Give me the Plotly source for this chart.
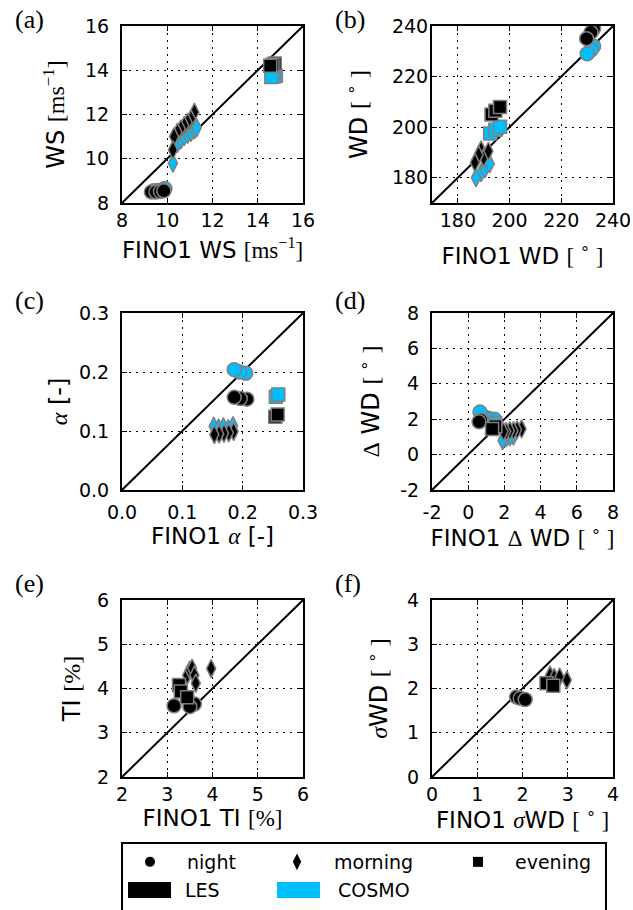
import plotly.graph_objects as go

# ---------------- data ----------------
# (a) wind speed WS [m s-1]: x = FINO1, y = model
A_COS_NIGHT_X = [9.4, 9.6, 9.8, 9.9]
A_COS_NIGHT_Y = [8.55, 8.57, 8.6, 8.65]
A_COS_MORN_X = [10.25, 10.45, 10.6, 10.75, 10.9, 11.05, 11.2, 11.3]
A_COS_MORN_Y = [9.8, 10.7, 10.85, 11.0, 11.1, 11.2, 11.3, 11.4]
A_COS_EVE_X = [14.8, 14.7, 14.6]
A_COS_EVE_Y = [13.75, 13.72, 13.7]
A_LES_NIGHT_X = [9.3, 9.5, 9.7, 9.85]
A_LES_NIGHT_Y = [8.5, 8.5, 8.52, 8.55]
A_LES_MORN_X = [11.2, 11.05, 10.9, 10.75, 10.6, 10.45, 10.3, 10.25]
A_LES_MORN_Y = [12.1, 11.8, 11.65, 11.5, 11.35, 11.2, 11.0, 10.4]
A_LES_EVE_X = [14.75, 14.65, 14.55]
A_LES_EVE_Y = [14.3, 14.25, 14.2]

# (b) wind direction WD [deg]
B_COS_NIGHT_X = [232.5, 231.5, 230.0]
B_COS_NIGHT_Y = [232.0, 230.5, 229.0]
B_COS_MORN_X = [189.0, 190.5, 192.3, 187.0]
B_COS_MORN_Y = [182.0, 183.5, 185.5, 180.0]
B_COS_EVE_X = [192.5, 194.5, 196.3]
B_COS_EVE_Y = [197.5, 199.0, 200.2]
B_LES_NIGHT_X = [232.5, 231.5, 229.8]
B_LES_NIGHT_Y = [239.0, 237.5, 235.0]
B_LES_MORN_X = [189.0, 190.0, 188.0, 191.8, 186.6]
B_LES_MORN_Y = [191.0, 188.0, 189.0, 190.5, 186.0]
B_LES_EVE_X = [193.0, 194.5, 196.3]
B_LES_EVE_Y = [205.0, 206.5, 208.0]

# (c) shear exponent alpha [-]
C_COS_NIGHT_X = [0.205, 0.195, 0.186]
C_COS_NIGHT_Y = [0.198, 0.200, 0.204]
C_COS_MORN_X = [0.152, 0.160, 0.168, 0.176, 0.184]
C_COS_MORN_Y = [0.108, 0.105, 0.107, 0.104, 0.109]
C_COS_EVE_X = [0.255, 0.259]
C_COS_EVE_Y = [0.158, 0.162]
C_LES_NIGHT_X = [0.207, 0.196, 0.186]
C_LES_NIGHT_Y = [0.154, 0.155, 0.157]
C_LES_MORN_X = [0.185, 0.177, 0.169, 0.161, 0.153]
C_LES_MORN_Y = [0.099, 0.097, 0.096, 0.095, 0.094]
C_LES_EVE_X = [0.254, 0.258]
C_LES_EVE_Y = [0.124, 0.128]

# (d) wind veer Delta WD [deg]
D_COS_NIGHT_X = [1.45, 1.1, 0.8, 0.65]
D_COS_NIGHT_Y = [2.0, 2.05, 2.2, 2.4]
D_COS_MORN_X = [2.5, 2.3, 2.1, 1.9]
D_COS_MORN_Y = [1.05, 1.0, 0.95, 0.8]
D_COS_EVE_X = [1.5, 1.4]
D_COS_EVE_Y = [1.75, 1.6]
D_LES_NIGHT_X = [0.7, 0.6]
D_LES_NIGHT_Y = [1.95, 1.85]
D_LES_MORN_X = [2.95, 2.7, 2.5, 2.3, 2.1, 1.95]
D_LES_MORN_Y = [1.45, 1.4, 1.35, 1.35, 1.3, 1.3]
D_LES_EVE_X = [1.5, 1.32]
D_LES_EVE_Y = [1.6, 1.45]

# (e) turbulence intensity TI [%] (LES only)
E_LES_NIGHT_X = [3.6, 3.5, 3.15]
E_LES_NIGHT_Y = [3.65, 3.59, 3.61]
E_LES_MORN_X = [3.44, 3.5, 3.55, 3.6, 3.63, 3.97]
E_LES_MORN_Y = [4.3, 4.42, 4.46, 4.3, 4.12, 4.45]
E_LES_EVE_X = [3.26, 3.3, 3.44]
E_LES_EVE_Y = [4.08, 3.93, 3.8]

# (f) sigma WD [deg] (LES only)
F_LES_NIGHT_X = [1.87, 1.95, 2.06]
F_LES_NIGHT_Y = [1.81, 1.78, 1.75]
F_LES_MORN_X = [2.61, 2.7, 2.82, 2.98]
F_LES_MORN_Y = [2.3, 2.25, 2.26, 2.19]
F_LES_EVE_X = [2.53, 2.68]
F_LES_EVE_Y = [2.12, 2.06]

# axis ranges and tick labels
A_RANGE = [8, 16]
A_TICKS = [8, 10, 12, 14, 16]
A_LABELS = ["8", "10", "12", "14", "16"]
B_RANGE = [170, 240]
B_TICKS = [180, 200, 220, 240]
B_LABELS = ["180", "200", "220", "240"]
C_RANGE = [0.0, 0.3]
C_TICKS = [0.0, 0.1, 0.2, 0.3]
C_LABELS = ["0.0", "0.1", "0.2", "0.3"]
D_RANGE = [-2, 8]
D_TICKS = [-2, 0, 2, 4, 6, 8]
D_LABELS = ["-2", "0", "2", "4", "6", "8"]
E_RANGE = [2, 6]
E_TICKS = [2, 3, 4, 5, 6]
E_LABELS = ["2", "3", "4", "5", "6"]
F_RANGE = [0, 4]
F_TICKS = [0, 1, 2, 3, 4]
F_LABELS = ["0", "1", "2", "3", "4"]

# legend texts
TIME_NAMES = ["night", "morning", "evening"]
MODEL_NAMES = ["LES", "COSMO"]

SERIF = "Liberation Serif"
SANS = "DejaVu Sans"


def s(t):
    return '<span style="font-family:%s">%s</span>' % (SERIF, t)


DEG = s("[ <sup>∘</sup> ]")
A_XT = "FINO1 WS " + s("[ms<sup>−1</sup>]")
A_YT = "WS " + s("[ms<sup>−1</sup>]")
B_XT = "FINO1 WD " + DEG
B_YT = "WD " + DEG
C_XT = "FINO1 " + s("<i>α</i>") + " [-]"
C_YT = s("<i>α</i>") + " [-]"
D_XT = "FINO1 " + s("Δ") + " WD " + DEG
D_YT = s("Δ") + " WD " + DEG
E_XT = "FINO1 TI " + s("[%]")
E_YT = "TI " + s("[%]")
F_XT = "FINO1 " + s("<i>σ</i>") + "WD " + DEG
F_YT = s("<i>σ</i>") + "WD " + DEG

LES_COLOR = "#000000"
COS_COLOR = "#00BFFF"
EDGE = "#808080"

W, H = 633, 910
COLS = [(122, 303), (432, 613)]
ROWS = [(26, 203), (313, 490), (600, 777)]
ROW_XTICK_STANDOFF = [-1, 4, -1]
LABEL_X = [13, 333]
LABEL_Y = [19, 301, 583]

panels = [
    dict(lab="(a)", rng=A_RANGE, tv=A_TICKS, tt=A_LABELS, xt=A_XT, yt=A_YT, ystand=7, ytit=14, xtit=12,
         cos=[(A_COS_NIGHT_X, A_COS_NIGHT_Y), (A_COS_MORN_X, A_COS_MORN_Y), (A_COS_EVE_X, A_COS_EVE_Y)],
         les=[(A_LES_NIGHT_X, A_LES_NIGHT_Y), (A_LES_MORN_X, A_LES_MORN_Y), (A_LES_EVE_X, A_LES_EVE_Y)]),
    dict(lab="(b)", rng=B_RANGE, tv=B_TICKS, tt=B_LABELS, xt=B_XT, yt=B_YT, ystand=-2, ytit=18, xtit=18,
         cos=[(B_COS_NIGHT_X, B_COS_NIGHT_Y), (B_COS_MORN_X, B_COS_MORN_Y), (B_COS_EVE_X, B_COS_EVE_Y)],
         les=[(B_LES_NIGHT_X, B_LES_NIGHT_Y), (B_LES_MORN_X, B_LES_MORN_Y), (B_LES_EVE_X, B_LES_EVE_Y)]),
    dict(lab="(c)", rng=C_RANGE, tv=C_TICKS, tt=C_LABELS, xt=C_XT, yt=C_YT, ystand=7, ytit=5, xtit=0,
         cos=[(C_COS_NIGHT_X, C_COS_NIGHT_Y), (C_COS_MORN_X, C_COS_MORN_Y), (C_COS_EVE_X, C_COS_EVE_Y)],
         les=[(C_LES_NIGHT_X, C_LES_NIGHT_Y), (C_LES_MORN_X, C_LES_MORN_Y), (C_LES_EVE_X, C_LES_EVE_Y)]),
    dict(lab="(d)", rng=D_RANGE, tv=D_TICKS, tt=D_LABELS, xt=D_XT, yt=D_YT, ystand=7, ytit=14, xtit=2,
         cos=[(D_COS_NIGHT_X, D_COS_NIGHT_Y), (D_COS_MORN_X, D_COS_MORN_Y), (D_COS_EVE_X, D_COS_EVE_Y)],
         les=[(D_LES_NIGHT_X, D_LES_NIGHT_Y), (D_LES_MORN_X, D_LES_MORN_Y), (D_LES_EVE_X, D_LES_EVE_Y)]),
    dict(lab="(e)", rng=E_RANGE, tv=E_TICKS, tt=E_LABELS, xt=E_XT, yt=E_YT, ystand=7, ytit=10, xtit=0,
         cos=[],
         les=[(E_LES_NIGHT_X, E_LES_NIGHT_Y), (E_LES_MORN_X, E_LES_MORN_Y), (E_LES_EVE_X, E_LES_EVE_Y)]),
    dict(lab="(f)", rng=F_RANGE, tv=F_TICKS, tt=F_LABELS, xt=F_XT, yt=F_YT, ystand=7, ytit=13, xtit=0,
         cos=[],
         les=[(F_LES_NIGHT_X, F_LES_NIGHT_Y), (F_LES_MORN_X, F_LES_MORN_Y), (F_LES_EVE_X, F_LES_EVE_Y)]),
]

SYMBOLS = ["circle", "diamond-tall", "square"]
SIZES = [14, 13, 13]

fig = go.Figure()
annotations = []
layout = {}

for i, p in enumerate(panels):
    r, c = divmod(i, 2)
    n = "" if i == 0 else str(i + 1)
    xa, ya = "x" + n, "y" + n
    x0, x1 = COLS[c]
    y0, y1 = ROWS[r]
    common = dict(range=p["rng"], tickvals=p["tv"], ticktext=p["tt"], automargin=False,
                  showline=True, linewidth=2, linecolor="black", mirror="ticks",
                  ticks="inside", ticklen=5, tickwidth=1, tickcolor="black",
                  showgrid=True, gridcolor="black", gridwidth=1, griddash="2px,5px",
                  zeroline=False, tickfont=dict(family=SANS, size=19, color="black"))
    layout["xaxis" + n] = dict(common, domain=[x0 / W, x1 / W], anchor=ya,
                               ticklabelstandoff=ROW_XTICK_STANDOFF[r],
                               title=dict(text=p["xt"], font=dict(family=SANS, size=23, color="black"),
                                          standoff=p["xtit"]))
    layout["yaxis" + n] = dict(common, domain=[1 - y1 / H, 1 - y0 / H], anchor=xa,
                               ticklabelstandoff=p["ystand"],
                               title=dict(text=p["yt"], font=dict(family=SANS, size=24, color="black"),
                                          standoff=p["ytit"]))
    # 1:1 line
    fig.add_trace(go.Scatter(x=p["rng"], y=p["rng"], mode="lines", xaxis=xa, yaxis=ya,
                             line=dict(color="black", width=2), showlegend=False, hoverinfo="skip"))
    for color, group in ((COS_COLOR, p["cos"]), (LES_COLOR, p["les"])):
        for k, (xs, ys) in enumerate(group):
            fig.add_trace(go.Scatter(x=xs, y=ys, mode="markers", xaxis=xa, yaxis=ya,
                                     marker=dict(symbol=SYMBOLS[k], size=SIZES[k], color=color,
                                                 line=dict(color=EDGE, width=1.5)),
                                     showlegend=False))
    annotations.append(dict(text=p["lab"], xref="paper", yref="paper",
                            x=LABEL_X[c] / W, y=1 - LABEL_Y[r] / H,
                            xanchor="left", yanchor="middle", showarrow=False,
                            font=dict(family=SERIF, size=26, color="black")))

# legend: time of day (marker symbols)
LEG_SYM_X = [150, 297, 478]
for k, name in enumerate(TIME_NAMES):
    lid = "legend" if k == 0 else "legend" + str(k + 1)
    fig.add_trace(go.Scatter(x=[None], y=[None], mode="markers", name=name, legend=lid,
                             marker=dict(symbol=SYMBOLS[k], size=[10, 12, 10][k], color="black")))
    layout[lid] = dict(x=(LEG_SYM_X[k] - 37) / W, y=1 - 862 / H, xanchor="left", yanchor="middle",
                       itemwidth=64, bgcolor="rgba(0,0,0,0)", borderwidth=0,
                       font=dict(family=SANS, size=19, color="black"), orientation="h")

# legend: model colour patches
MODEL_COLORS = [LES_COLOR, COS_COLOR]
PATCH_X = [(128, 171), (277, 320)]
TEXT_X = [183, 336]
shapes = [dict(type="rect", xref="paper", yref="paper", x0=122 / W, x1=606 / W,
               y0=-0.02, y1=1 - 843 / H, line=dict(color="black", width=2))]
for k, name in enumerate(MODEL_NAMES):
    px0, px1 = PATCH_X[k]
    shapes.append(dict(type="rect", xref="paper", yref="paper", x0=px0 / W, x1=px1 / W,
                       y0=1 - 898 / H, y1=1 - 882 / H, line=dict(width=0),
                       fillcolor=MODEL_COLORS[k]))
    annotations.append(dict(text=name, xref="paper", yref="paper", x=TEXT_X[k] / W, y=1 - 890 / H,
                            xanchor="left", yanchor="middle", showarrow=False,
                            font=dict(family=SANS, size=19, color="black")))

fig.update_layout(width=W, height=H, margin=dict(l=0, r=0, t=0, b=0, autoexpand=False),
                  paper_bgcolor="white", plot_bgcolor="white",
                  annotations=annotations, shapes=shapes, **layout)
fig.write_html("out.html", config={"displayModeBar": False},
               post_script="document.body.style.margin='0';document.body.style.overflow='hidden';")
